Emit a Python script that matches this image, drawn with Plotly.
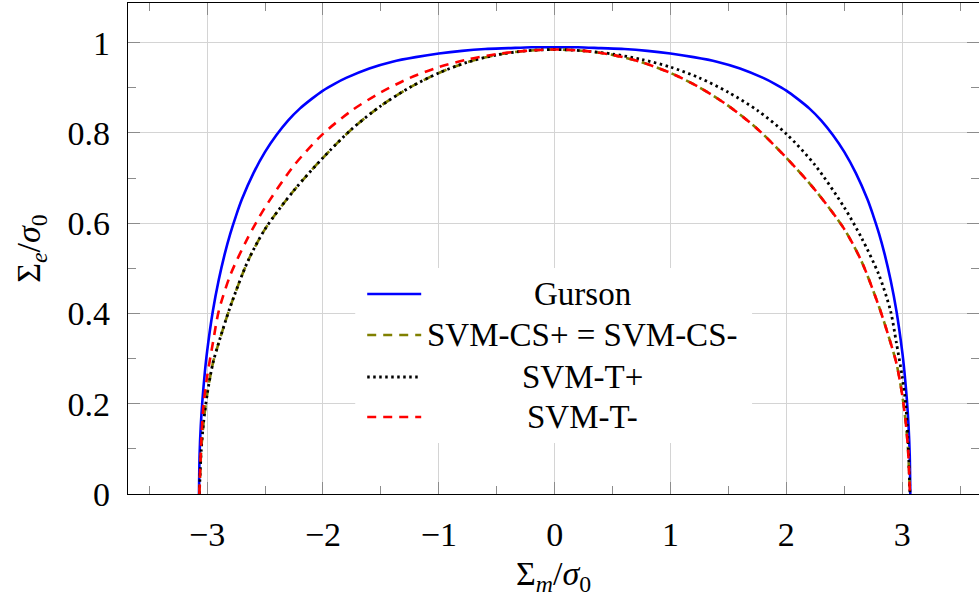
import plotly.graph_objects as go

# ---- yield surfaces: mean stress Sigma_m/sigma_0 vs equivalent stress Sigma_e/sigma_0 ----
gurson_x = [-3.07, -3.065, -3.055, -3.04, -3.02, -3.0, -2.95, -2.9, -2.85, -2.8, -2.75, -2.7,
            -2.6, -2.5, -2.4, -2.3, -2.2, -2.1, -2.0, -1.9, -1.8, -1.6, -1.4, -1.2, -1.0, -0.8,
            -0.6, -0.4, -0.2, 0.0, 0.2, 0.4, 0.6, 0.8, 1.0, 1.2, 1.4, 1.6, 1.8, 1.9, 2.0, 2.1,
            2.2, 2.3, 2.4, 2.5, 2.6, 2.7, 2.75, 2.8, 2.85, 2.9, 2.95, 3.0, 3.02, 3.04, 3.055,
            3.065, 3.07]
gurson_y = [0.0, 0.087, 0.150, 0.210, 0.269, 0.316, 0.406, 0.474, 0.530, 0.577, 0.617, 0.653,
            0.711, 0.758, 0.796, 0.828, 0.854, 0.875, 0.894, 0.909, 0.922, 0.943, 0.958, 0.968,
            0.976, 0.982, 0.986, 0.988, 0.990, 0.990, 0.990, 0.988, 0.986, 0.982, 0.976, 0.968,
            0.958, 0.943, 0.922, 0.909, 0.894, 0.875, 0.854, 0.828, 0.796, 0.758, 0.711, 0.653,
            0.617, 0.577, 0.530, 0.474, 0.406, 0.316, 0.269, 0.210, 0.150, 0.087, 0.0]

svm_x = [-3.067, -3.05, -3.03, -3.0, -2.95, -2.9, -2.8, -2.65, -2.5, -2.25, -2.0, -1.75,
         -1.5, -1.25, -1.0, -0.75, -0.5, -0.25, 0.0, 0.25, 0.5, 0.75, 1.0, 1.25, 1.5, 1.75,
         2.0, 2.25, 2.5, 2.65, 2.8, 2.9, 2.95, 3.0, 3.03, 3.05, 3.067]

svm_cs_y = [0.0, 0.10, 0.16, 0.22, 0.29, 0.335, 0.415, 0.515, 0.587, 0.673, 0.745, 0.809,
            0.860, 0.901, 0.933, 0.957, 0.973, 0.982, 0.985, 0.982, 0.973, 0.957, 0.933,
            0.901, 0.860, 0.809, 0.745, 0.673, 0.587, 0.515, 0.415, 0.335, 0.29, 0.22, 0.16,
            0.10, 0.0]

svm_t_plus_y = [0.0, 0.10, 0.16, 0.22, 0.29, 0.335, 0.415, 0.515, 0.587, 0.673, 0.745, 0.809,
                0.860, 0.901, 0.933, 0.957, 0.973, 0.982, 0.985, 0.982, 0.975, 0.963, 0.946,
                0.922, 0.890, 0.850, 0.798, 0.728, 0.635, 0.567, 0.485, 0.405, 0.335, 0.26,
                0.20, 0.12, 0.0]

svm_t_minus_y = [0.0, 0.12, 0.20, 0.26, 0.335, 0.405, 0.485, 0.567, 0.635, 0.728, 0.798, 0.850,
                 0.890, 0.922, 0.946, 0.963, 0.975, 0.982, 0.985, 0.982, 0.973, 0.957, 0.933,
                 0.901, 0.860, 0.809, 0.745, 0.673, 0.587, 0.515, 0.415, 0.335, 0.29, 0.22,
                 0.16, 0.10, 0.0]

legend_labels = ["Gurson", "SVM-CS+ = SVM-CS-", "SVM-T+", "SVM-T-"]

x_ticks = [-3, -2, -1, 0, 1, 2, 3]
y_ticks = [0, 0.2, 0.4, 0.6, 0.8, 1]

FONT = "Liberation Serif, DejaVu Serif, serif"
FS = 34
FS_LEGEND = 33

styles = [
    dict(color="#0000ff", width=2.6, dash="solid"),
    dict(color="#808000", width=2.6, dash="9px,7px"),
    dict(color="#000000", width=2.8, dash="2.5px,3.5px"),
    dict(color="#ff0000", width=2.6, dash="9px,7px"),
]

series = [
    (gurson_x, gurson_y),
    (svm_x, svm_cs_y),
    (svm_x, svm_t_plus_y),
    (svm_x, svm_t_minus_y),
]

fig = go.Figure()
for (xs, ys), name, st in zip(series, legend_labels, styles):
    fig.add_trace(go.Scatter(x=xs, y=ys, mode="lines", name=name,
                             line=dict(shape="spline", smoothing=0.8, **st),
                             showlegend=False, hoverinfo="skip"))

# ---- hand-built legend: white box, line samples, centred labels ----
plot_left, plot_right, plot_top, plot_bottom = 127.7, 979.0, 3.0, 494.0
pw = plot_right - plot_left
ph = plot_bottom - plot_top


def px_to_paper(px, py):
    return (px - plot_left) / pw, (plot_bottom - py) / ph


shapes = []
bx0, by0 = px_to_paper(355, 443)
bx1, by1 = px_to_paper(752, 268)
shapes.append(dict(type="rect", xref="paper", yref="paper", x0=bx0, x1=bx1, y0=by0, y1=by1,
                   fillcolor="white", line=dict(width=0), layer="above"))

annotations = []
row_py = [294, 335, 377, 417]
for py, label, st in zip(row_py, legend_labels, styles):
    lx0, ly = px_to_paper(367, py)
    lx1, _ = px_to_paper(421, py)
    shapes.append(dict(type="line", xref="paper", yref="paper", x0=lx0, x1=lx1, y0=ly, y1=ly,
                       line=dict(color=st["color"], width=st["width"], dash=st["dash"]),
                       layer="above"))
    tx, _ = px_to_paper(582, py)
    annotations.append(dict(xref="paper", yref="paper", x=tx, y=ly, text=label,
                            showarrow=False, xanchor="center", yanchor="middle",
                            font=dict(family=FONT, size=FS_LEGEND, color="black")))

axis_common = dict(
    showgrid=True, gridcolor="#d4d4d4", gridwidth=1.3,
    showline=True, linecolor="black", linewidth=1.3, mirror="ticks",
    ticks="inside", ticklen=12, tickwidth=1.3, tickcolor="#8c8c8c",
    zeroline=False,
    tickfont=dict(family=FONT, size=FS, color="black"),
    ticklabelstandoff=10,
)

fig.update_layout(
    width=979, height=597,
    margin=dict(l=128, r=0, t=3, b=103),
    plot_bgcolor="white", paper_bgcolor="white",
    shapes=shapes, annotations=annotations,
    xaxis=dict(range=[-3.683, 3.663], tickvals=x_ticks,
               minor=dict(ticks="inside", ticklen=8, tickwidth=1.3, tickcolor="#8c8c8c",
                          dtick=0.5, tick0=0.5, showgrid=False),
               title=dict(text="Σ<sub><i>m</i></sub>/<i>σ</i><sub>0</sub>",
                          font=dict(family=FONT, size=FS, color="black"), standoff=14),
               **axis_common),
    yaxis=dict(range=[0, 1.088], tickvals=y_ticks,
               minor=dict(ticks="inside", ticklen=8, tickwidth=1.3, tickcolor="#8c8c8c",
                          dtick=0.1, tick0=0.1, showgrid=False),
               title=dict(text="Σ<sub><i>e</i></sub>/<i>σ</i><sub>0</sub>",
                          font=dict(family=FONT, size=FS, color="black"), standoff=16),
               **axis_common),
)

fig.write_html("out.html")
